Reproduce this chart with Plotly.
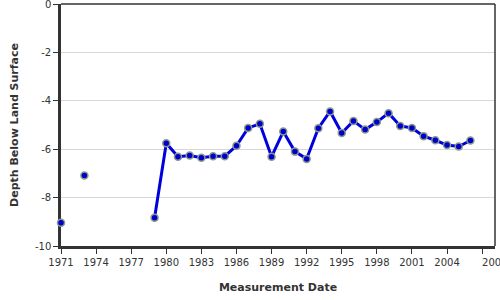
import plotly.graph_objects as go

years = [1971, 1972, 1973, 1974, 1979, 1980, 1981, 1982, 1983, 1984, 1985, 1986, 1987,
         1988, 1989, 1990, 1991, 1992, 1993, 1994, 1995, 1996, 1997, 1998, 1999,
         2000, 2001, 2002, 2003, 2004, 2005, 2006]
depth = [-9.04, None, -7.09, None, -8.83, -5.75, -6.31, -6.26, -6.35, -6.29, -6.29, -5.86, -5.12,
         -4.95, -6.31, -5.27, -6.10, -6.40, -5.13, -4.44, -5.33, -4.83, -5.19, -4.88, -4.51,
         -5.04, -5.12, -5.46, -5.63, -5.83, -5.89, -5.64]

x_ticks = [1971, 1974, 1977, 1980, 1983, 1986, 1989, 1992, 1995, 1998, 2001, 2004, 2007]
x_tick_labels = ["1971", "1974", "1977", "1980", "1983", "1986", "1989", "1992", "1995",
                 "1998", "2001", "2004", "\u00a0" * 8 + "2007"]
y_ticks = [0, -2, -4, -6, -8, -10]
y_tick_labels = ["0", "-2", "-4", "-6", "-8", "-10"]

fig = go.Figure()
fig.add_trace(go.Scatter(
    x=years, y=depth, mode="lines+markers", connectgaps=False,
    line=dict(color="#0000dd", width=3),
    marker=dict(color="#0000cc", size=7, line=dict(color="#8a9a8a", width=1.5)),
    cliponaxis=False, showlegend=False,
))

fig.update_layout(
    width=500, height=300,
    margin=dict(l=61, r=5, t=4, b=54),
    paper_bgcolor="white", plot_bgcolor="white",
    font=dict(family="DejaVu Sans", size=10, color="#333"),
    xaxis=dict(
        range=[1971, 2008.1], tickvals=x_ticks, ticktext=x_tick_labels, tickangle=0,
        ticks="outside", ticklen=5, tickcolor="#333", showgrid=False,
        showline=True, linecolor="#333", linewidth=2.5, mirror=False, zeroline=False,
        layer="below traces", ticklabeloverflow="allow", automargin=False,
        title=dict(text="<b>Measurement Date</b>", font=dict(size=11, color="#333"), standoff=17),
        tickfont=dict(size=10, color="#333"),
    ),
    yaxis=dict(
        range=[-10, 0.0001], tickvals=y_ticks, ticktext=y_tick_labels,
        ticks="outside", ticklen=5, tickcolor="#333", showgrid=True, gridcolor="#d8d8d8",
        showline=True, linecolor="#333", linewidth=2.5, zeroline=False,
        layer="below traces", ticklabeloverflow="allow", automargin=False,
        title=dict(text="<b>Depth Below Land Surface</b>", font=dict(size=11, color="#333"), standoff=15),
        tickfont=dict(size=10, color="#333"),
    ),
    shapes=[
        dict(type="line", xref="paper", yref="paper", x0=0, x1=1, y0=1, y1=1,
             line=dict(color="#333", width=1.5)),
        dict(type="line", xref="paper", yref="paper", x0=1, x1=1, y0=0, y1=1,
             line=dict(color="#333", width=1.5)),
    ],
)

fig.write_html("out.html")
